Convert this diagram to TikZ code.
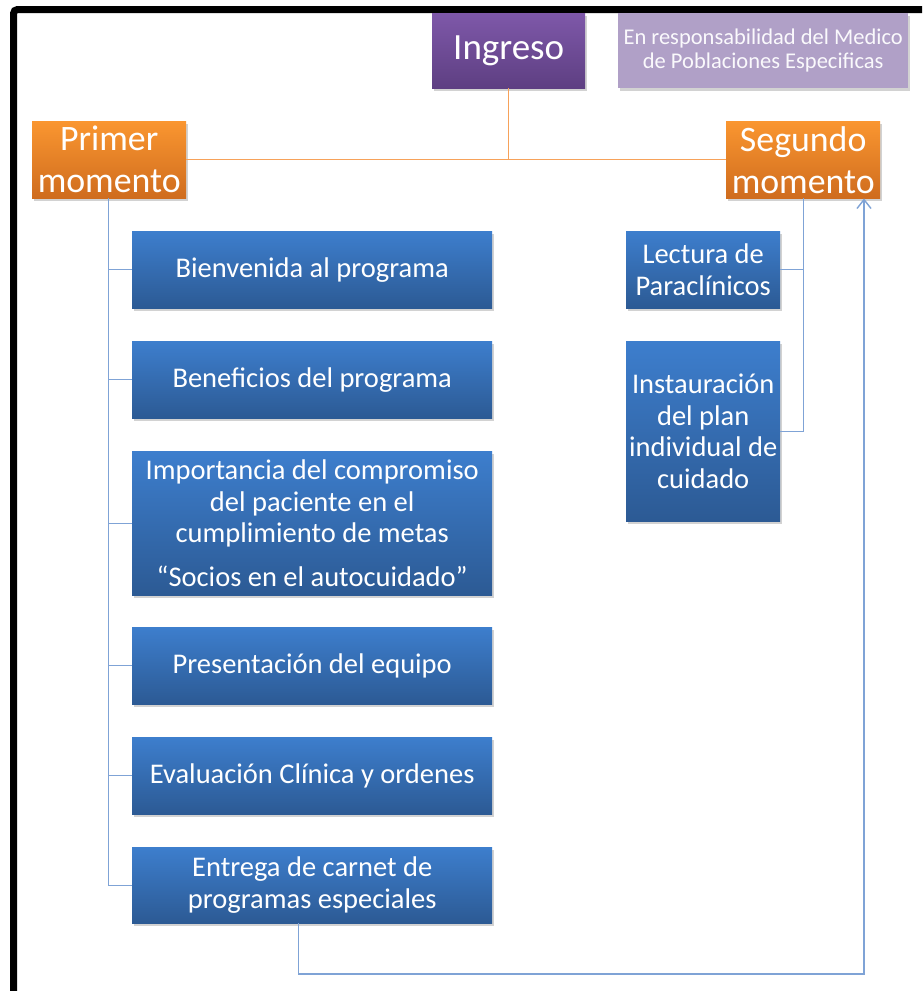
\documentclass[tikz,border=0pt]{standalone}
\usepackage{fontspec}
\setmainfont{Carlito}
\usetikzlibrary{shadows,arrows.meta}
\definecolor{purpT}{HTML}{7E58A9}
\definecolor{purpB}{HTML}{5E3F82}
\definecolor{lilac}{HTML}{B0A0C7}
\definecolor{orT}{HTML}{FA9630}
\definecolor{orB}{HTML}{CF6C1E}
\definecolor{blT}{HTML}{3D7ECD}
\definecolor{blB}{HTML}{2C5A94}
\definecolor{orLine}{HTML}{F7A25A}
\definecolor{blLine}{HTML}{7FA3D6}
\tikzset{
  x=1pt, y=-1pt,
  boxbase/.style={anchor=north west, inner sep=0pt, align=center, text=white,
    drop shadow={opacity=0.35, shadow xshift=2pt, shadow yshift=-3pt}},
  bluebox/.style={boxbase, top color=blT, bottom color=blB,
    font=\fontsize{28.5}{31.5}\selectfont},
  orangebox/.style={boxbase, top color=orT, bottom color=orB,
    minimum width=154pt, minimum height=77pt, font=\fontsize{35.8}{42}\selectfont},
  purplebox/.style={boxbase, top color=purpT, bottom color=purpB,
    minimum width=153pt, minimum height=75pt, font=\fontsize{37}{42}\selectfont},
  notebox/.style={boxbase, fill=lilac, minimum width=290pt, minimum height=75pt,
    text=white!94!lilac, font=\fontsize{22.5}{24}\selectfont},
  orangeline/.style={draw=orLine, line width=1.4pt},
  blueline/.style={draw=blLine, line width=1.4pt},
}
\begin{document}
\begin{tikzpicture}
\useasboundingbox (0,0) rectangle (922,991);
\fill[white] (0,0) rectangle (922,991);
% frame
\draw[black, line width=7pt, rounded corners=4pt] (13.5,991) -- (13.5,9.5) -- (922,9.5);

\node[purplebox] (ing) at (432,13) {Ingreso};
\node[notebox] (note) at (618,13) {En responsabilidad del Medico\\de Poblaciones Especificas};
\node[orangebox] (prim) at (32,121) {Primer\\momento};
\node[orangebox] (seg) at (726,121) {Segundo\\momento};

\node[bluebox, minimum width=360pt, minimum height=77pt] (b1) at (132,231) {Bienvenida al programa};
\node[bluebox, minimum width=360pt, minimum height=77pt] (b2) at (132,341) {Beneficios del programa};
\node[bluebox, minimum width=360pt, minimum height=144pt] (b3) at (132,451)
  {Importancia del compromiso\\del paciente en el\\cumplimiento de metas\\[12pt]“Socios en el autocuidado”};
\node[bluebox, minimum width=360pt, minimum height=77pt] (b4) at (132,627) {Presentación del equipo};
\node[bluebox, minimum width=360pt, minimum height=77pt] (b5) at (132,737) {Evaluación Clínica y ordenes};
\node[bluebox, minimum width=360pt, minimum height=76pt] (b6) at (132,847) {Entrega de carnet de\\programas especiales};

\node[bluebox, minimum width=154pt, minimum height=77pt] (lec) at (626,231) {Lectura de\\Paraclínicos};
\node[bluebox, minimum width=154pt, minimum height=180pt] (ins) at (626,341) {Instauración\\del plan\\individual de\\cuidado};

% orange connectors
\draw[orangeline] (prim.east) -- (seg.west);
\draw[orangeline] (ing.south) -- (ing.south |- prim.east);

% left tree
\foreach \b in {b1,b2,b3,b4,b5,b6}{
  \draw[blueline] ([xshift=-1pt]prim.south) |- (\b.west);
}
% right tree
\draw[blueline] (seg.south) |- (lec.east);
\draw[blueline] (seg.south) |- (ins.east);

% return arrow
\coordinate (ret) at (864,974);
\draw[blueline, -{Straight Barb[length=9pt,width=14pt]}] ([xshift=-14pt]b6.south) |- (ret) -- (ret |- seg.south);
\end{tikzpicture}
\end{document}
